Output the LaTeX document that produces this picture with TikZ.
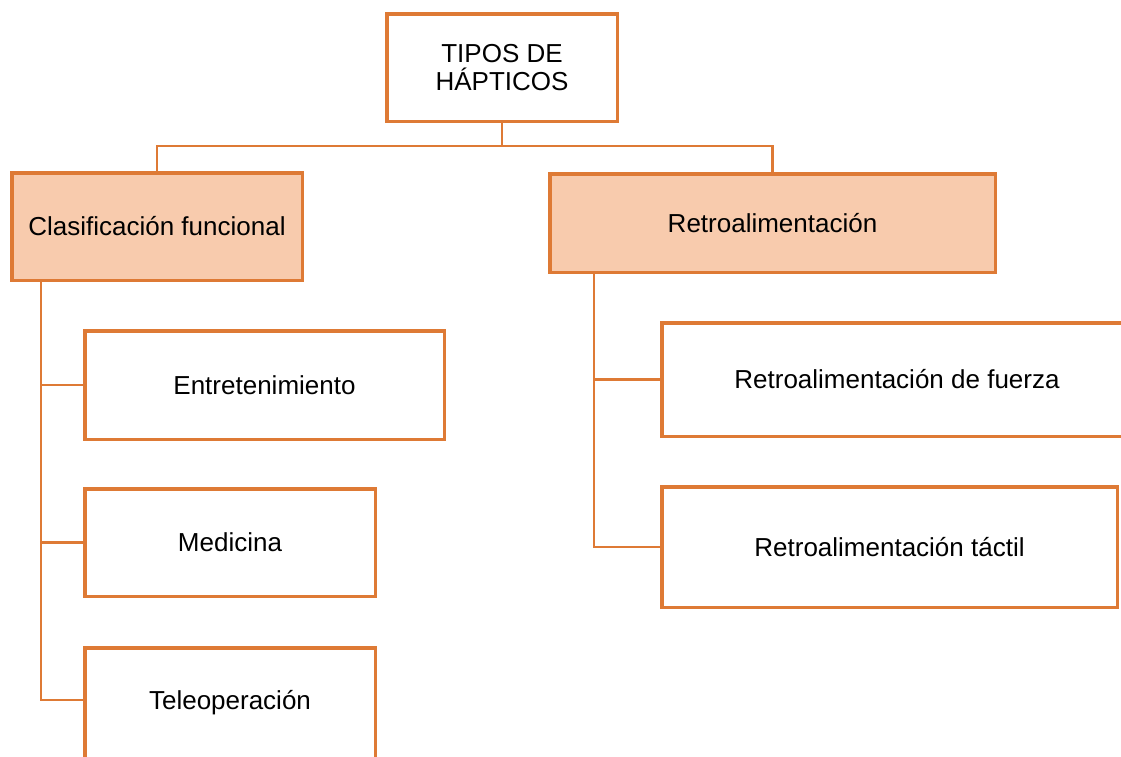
\documentclass[tikz,border=0pt]{standalone}
\usepackage{fontspec}
\setmainfont{Liberation Sans}
\definecolor{bord}{HTML}{DE7A35}
\definecolor{peach}{HTML}{F8CBAD}
\begin{document}
\begin{tikzpicture}[x=1pt,y=-1pt,
  box/.style={draw=bord,line width=3.5pt,fill=white,inner sep=0pt,align=center,
    font=\fontsize{26}{28}\selectfont,text=black},
  hbox/.style={box,fill=peach},
  conn/.style={draw=bord,line width=2.6pt}]
\useasboundingbox (0,0) rectangle (1121,756);
\clip (0,0) rectangle (1121,756);
\node[box,minimum width=230.5pt,minimum height=107.5pt] (top) at (502,67.5) {TIPOS DE\\HÁPTICOS};
\node[hbox,minimum width=290.5pt,minimum height=107.5pt] (clas) at (157,226.5) {Clasificación funcional};
\node[hbox,minimum width=445.5pt,minimum height=98.5pt] (retro) at (772.5,223) {Retroalimentación};
\node[box,minimum width=359.5pt,minimum height=108.5pt] (ent) at (264.5,385) {Entretenimiento};
\node[box,minimum width=290.5pt,minimum height=107.5pt] (med) at (230,542.5) {Medicina};
\node[box,minimum width=290.5pt,minimum height=110.5pt,text depth=6pt] (tele) at (230,703) {Teleoperación};
\node[box,minimum width=470.5pt,minimum height=113.5pt] (fue) at (897,379.5) {Retroalimentación de fuerza};
\node[box,minimum width=455.5pt,minimum height=120.5pt] (tac) at (889.5,547) {Retroalimentación táctil};
% connectors
\draw[conn] (top.south) -- ++(0,23) coordinate (j);
\draw[conn] (clas.north) |- (j) -| (retro.north);
\path (clas.south) ++(-116,0) coordinate (lsp);
\draw[conn] (lsp) |- (ent.west);
\draw[conn] (lsp) |- (med.west);
\draw[conn] (lsp) |- ([yshift=3pt]tele.west);
\path (retro.south) ++(-178.5,0) coordinate (rsp);
\draw[conn] (rsp) |- (fue.west);
\draw[conn] (rsp) |- (tac.west);
\end{tikzpicture}
\end{document}
